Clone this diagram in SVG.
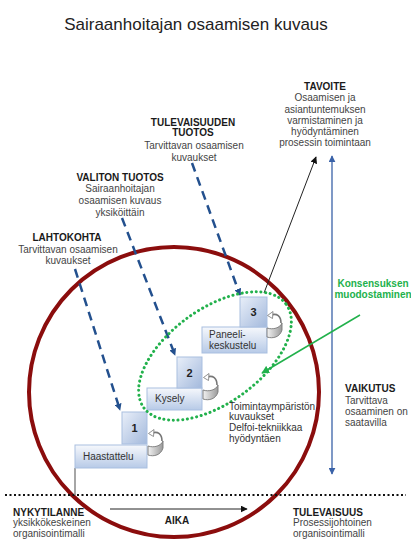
<svg xmlns="http://www.w3.org/2000/svg" width="411" height="540" viewBox="0 0 411 540">
  <style>
    text { font-family: "Liberation Sans", Arial, sans-serif; }
    .title { font-size: 17px; fill: #222; }
    .hd { font-size: 10px; font-weight: bold; fill: #1a1a1a; }
    .bd { font-size: 10px; fill: #444; }
    .num { font-size: 11px; font-weight: bold; fill: #222; text-anchor: middle; }
    .lbl { font-size: 10px; fill: #333; }
    .mid { text-anchor: middle; }
    .green { font-size: 10px; font-weight: bold; fill: #22b14c; text-anchor: middle; }
    .dash { fill: none; stroke: #23508e; stroke-width: 2.5; stroke-dasharray: 9 6; }
    .numbox { fill: url(#gNum); stroke: #a9bfe0; stroke-width: 1; }
    .lblbox { fill: url(#gLbl); stroke: #a9bfe0; stroke-width: 1; }
  </style>
  <defs>
    <linearGradient id="gNum" x1="0" y1="0" x2="1" y2="1">
      <stop offset="0" stop-color="#e9eff9"/>
      <stop offset="1" stop-color="#a3b9dc"/>
    </linearGradient>
    <linearGradient id="gLbl" x1="0" y1="0" x2="0" y2="1">
      <stop offset="0" stop-color="#f6f8fc"/>
      <stop offset="1" stop-color="#b7cae7"/>
    </linearGradient>
    <linearGradient id="gBand" x1="0" y1="0" x2="1" y2="0">
      <stop offset="0" stop-color="#f2f2f2"/>
      <stop offset="1" stop-color="#9a9a9a"/>
    </linearGradient>
    <marker id="mBlue" viewBox="0 0 10 10" refX="9" refY="5" markerWidth="7" markerHeight="7" markerUnits="userSpaceOnUse" orient="auto">
      <path d="M0,0 L10,5 L0,10 Z" fill="#23508e"/>
    </marker>
    <marker id="mAxis" viewBox="0 0 10 10" refX="9" refY="5" markerWidth="7" markerHeight="7" markerUnits="userSpaceOnUse" orient="auto-start-reverse">
      <path d="M0,0 L10,5 L0,10 Z" fill="#3a62a8"/>
    </marker>
    <marker id="mBlack" viewBox="0 0 10 10" refX="9" refY="5" markerWidth="7" markerHeight="7" markerUnits="userSpaceOnUse" orient="auto">
      <path d="M0,0 L10,5 L0,10 Z" fill="#111"/>
    </marker>
    <marker id="mGreen" viewBox="0 0 10 10" refX="9" refY="5" markerWidth="8" markerHeight="8" markerUnits="userSpaceOnUse" orient="auto">
      <path d="M0,0 L10,5 L0,10 Z" fill="#22b14c"/>
    </marker>
    <!-- small curled "repeat" arrow beside each step -->
    <g id="curl">
      <path d="M15,14 C15,7 11,4 5,6" fill="none" stroke="#777" stroke-width="1.6"/>
      <path d="M1.5,6.5 L7,2.5 L6.5,9.5 Z" fill="#fff" stroke="#777" stroke-width="0.8"/>
      <path d="M1,19 C7,21 14,19 16,14 L16,21 C14,28 7,30 1,28 Z" fill="url(#gBand)" stroke="#777" stroke-width="0.9"/>
    </g>
  </defs>

  <rect width="411" height="540" fill="#fff"/>

  <text class="title" x="196" y="30" text-anchor="middle">Sairaanhoitajan osaamisen kuvaus</text>

  <!-- large scope circle -->
  <circle cx="174" cy="392" r="145" fill="none" stroke="#8b0d0d" stroke-width="4"/>

  <!-- present / future divider -->
  <line x1="5" y1="495" x2="406" y2="495" stroke="#111" stroke-width="2" stroke-dasharray="2 2.5"/>

  <g id="connectors">
    <line class="dash" x1="75" y1="269" x2="120" y2="410" marker-end="url(#mBlue)"/>
    <line class="dash" x1="122" y1="218" x2="175" y2="355" marker-end="url(#mBlue)"/>
    <line class="dash" x1="192" y1="163" x2="240" y2="295" marker-end="url(#mBlue)"/>
    <line x1="264" y1="293" x2="316" y2="157" stroke="#222" stroke-width="1" marker-end="url(#mBlack)"/>
    <line x1="332" y1="156" x2="332" y2="474" stroke="#3a62a8" stroke-width="1.3" marker-start="url(#mAxis)" marker-end="url(#mAxis)"/>
    <line x1="110" y1="509" x2="247" y2="509" stroke="#222" stroke-width="1" marker-end="url(#mBlack)"/>
    <line x1="75" y1="468" x2="75" y2="495" stroke="#888" stroke-width="1.5"/>
    <line x1="360" y1="315" x2="262" y2="373" stroke="#22b14c" stroke-width="1.5" marker-end="url(#mGreen)"/>
  </g>

  <g id="step1">
    <rect class="lblbox" x="75" y="445" width="72" height="23"/>
    <rect class="numbox" x="122" y="412" width="25" height="32"/>
    <text class="num" x="134.5" y="432">1</text>
    <text class="lbl" x="83" y="460">Haastattelu</text>
    <use href="#curl" x="147" y="427"/>
  </g>

  <g id="step2">
    <rect class="lblbox" x="147" y="388" width="55" height="22"/>
    <rect class="numbox" x="177" y="357" width="25" height="31"/>
    <text class="num" x="189.5" y="377">2</text>
    <text class="lbl" x="155" y="402">Kysely</text>
    <use href="#curl" x="202" y="371"/>
  </g>

  <g id="step3">
    <rect class="lblbox" x="202" y="327" width="65" height="26"/>
    <rect class="numbox" x="240" y="297" width="27" height="30"/>
    <text class="num" x="253.5" y="316">3</text>
    <text class="lbl" x="209" y="338">Paneeli-</text>
    <text class="lbl" x="209" y="349">keskustelu</text>
    <use href="#curl" x="266" y="309"/>
  </g>

  <!-- consensus area -->
  <ellipse id="consensus" cx="215" cy="356" rx="88" ry="47" transform="rotate(-36 215 356)" fill="none" stroke="#22b14c" stroke-width="3" stroke-linecap="round" stroke-dasharray="0.1 4.6"/>

  <g id="tavoite">
    <text class="hd mid" x="325" y="90">TAVOITE</text>
    <text class="bd mid" x="325" y="101">Osaamisen ja</text>
    <text class="bd mid" x="325" y="112.5">asiantuntemuksen</text>
    <text class="bd mid" x="325" y="124">varmistaminen ja</text>
    <text class="bd mid" x="325" y="135">hyödyntäminen</text>
    <text class="bd mid" x="325" y="146">prosessin toimintaan</text>
  </g>

  <g id="tulevaisuuden-tuotos">
    <text class="hd mid" x="193" y="125.5">TULEVAISUUDEN</text>
    <text class="hd mid" x="193" y="136">TUOTOS</text>
    <text class="bd mid" x="194" y="148.5">Tarvittavan osaamisen</text>
    <text class="bd mid" x="194" y="160.5">kuvaukset</text>
  </g>

  <g id="valiton-tuotos">
    <text class="hd mid" x="120" y="180.5">VALITON TUOTOS</text>
    <text class="bd mid" x="120" y="192">Sairaanhoitajan</text>
    <text class="bd mid" x="120" y="203.5">osaamisen kuvaus</text>
    <text class="bd mid" x="120" y="215.5">yksiköittäin</text>
  </g>

  <g id="lahtokohta">
    <text class="hd mid" x="67" y="240.5">LAHTOKOHTA</text>
    <text class="bd mid" x="68" y="252.5">Tarvittavan osaamisen</text>
    <text class="bd mid" x="68" y="264">kuvaukset</text>
  </g>

  <g id="konsensus">
    <text class="green" x="373" y="287">Konsensuksen</text>
    <text class="green" x="373" y="298">muodostaminen</text>
  </g>

  <g id="toimintaymparisto">
    <text class="lbl" x="229" y="409.5">Toimintaympäristön</text>
    <text class="lbl" x="229" y="420">kuvaukset</text>
    <text class="lbl" x="229" y="431">Delfoi-tekniikkaa</text>
    <text class="lbl" x="229" y="442">hyödyntäen</text>
  </g>

  <g id="vaikutus">
    <text class="hd" x="345" y="391.5">VAIKUTUS</text>
    <text class="bd" x="345" y="404">Tarvittava</text>
    <text class="bd" x="345" y="415">osaaminen on</text>
    <text class="bd" x="345" y="426">saatavilla</text>
  </g>

  <g id="nykytilanne">
    <text class="hd" x="13" y="515.5">NYKYTILANNE</text>
    <text class="bd" x="13" y="526">yksikkökeskeinen</text>
    <text class="bd" x="13" y="537">organisointimalli</text>
  </g>

  <g id="aika">
    <text class="hd mid" x="177" y="523.5">AIKA</text>
  </g>

  <g id="tulevaisuus">
    <text class="hd" x="293" y="515.5">TULEVAISUUS</text>
    <text class="bd" x="293" y="526">Prosessijohtoinen</text>
    <text class="bd" x="293" y="537">organisointimalli</text>
  </g>
</svg>
